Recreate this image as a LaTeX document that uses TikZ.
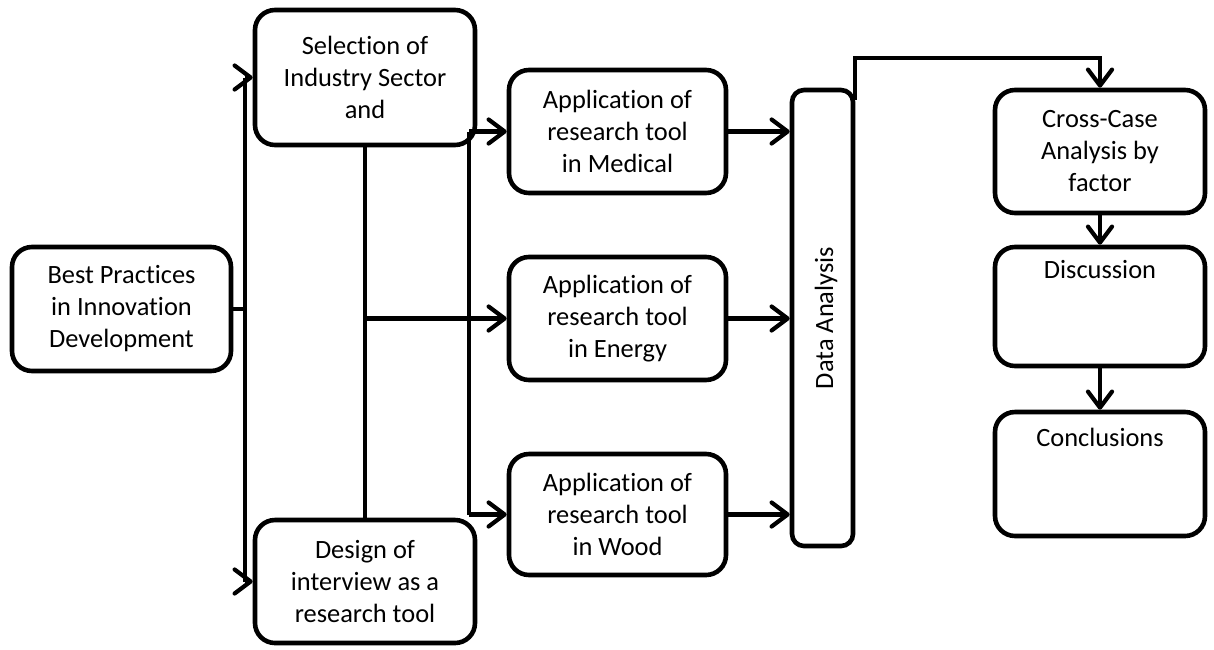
\documentclass[tikz,border=0pt]{standalone}
\usepackage{fontspec}
\setmainfont{Carlito}[Ligatures=NoCommon]
\usetikzlibrary{arrows.meta,positioning,calc}

\begin{document}
\begin{tikzpicture}[x=0.5pt,y=-0.5pt,>={Straight Barb[length=8pt,width=12pt,line cap=round,line join=round]},
	stage/.style={draw, line width=2.3pt, rounded corners=10pt, align=center, inner sep=2pt, font=\fontsize{13.2}{16}\selectfont},
	flow/.style={line width=2.1pt}]
	\useasboundingbox (0,0) rectangle (1214,649);

	% first column
	\node (best) at (121.5,309) [stage, minimum width=109.5pt, minimum height=62pt] {Best Practices\\in Innovation\\Development};
	\node (sel) at (365,77.5) [stage, minimum width=110pt, minimum height=67.5pt] {Selection of\\Industry Sector\\and};
	\node (des) at (365,581.5) [stage, minimum width=110pt, minimum height=61.5pt] {Design of\\interview as a\\research tool};

	% the three cases
	\node (med) at (617.5,131.5) [stage, minimum width=108.5pt, minimum height=61.5pt] {Application of\\research tool\\in Medical};
	\node (ene) at (617.5,318.5) [stage, minimum width=108.5pt, minimum height=61.5pt] {Application of\\research tool\\in Energy};
	\node (wood) at (617.5,514.5) [stage, minimum width=108.5pt, minimum height=60.5pt] {Application of\\research tool\\in Wood};

	\node (da) at (822.5,318) [stage, rounded corners=6pt, minimum width=30.5pt, minimum height=228pt] {};
	\node (datext) at (826,318) [rotate=90, font=\fontsize{13.2}{16}\selectfont] {Data Analysis};

	% last column
	\node (cross) at (1100,151.5) [stage, minimum width=105pt, minimum height=61.5pt] {Cross-Case\\Analysis by\\factor};
	\node (disc) at (1100,306.5) [stage, minimum width=105pt, minimum height=59.5pt] {Discussion\\ \strut\\ \strut};
	\node (concl) at (1100,474) [stage, minimum width=105pt, minimum height=62pt] {Conclusions\\ \strut\\ \strut};

	% connectors
	\draw [flow] (best.east) -- ++(12,0) coordinate (split);
	\draw [flow] (split |- sel.west) -- (split |- des.west);
	\draw [flow, ->] (split |- sel.west) -- (sel.west);
	\draw [flow, ->] (split |- des.west) -- (des.west);

	\draw [flow] (sel.south) -- (des.north);
	\draw [flow, ->] (sel.south |- ene.west) -- (ene.west);

	\coordinate (fork) at (469,132);
	\draw [flow] (fork) -- (fork |- wood.west);
	\draw [flow, ->] (fork |- med.west) -- (med.west);
	\draw [flow, ->] (fork |- wood.west) -- (wood.west);

	\foreach \src in {med,ene,wood}
		\draw [flow, ->] (\src.east) -- (da.west |- \src.east);

	\coordinate (over) at (854,58);
	\draw [flow, ->] ([yshift=-6pt]da.north east) -- (da.north east |- over) -| (cross.north);
	\draw [flow, ->] (cross.south) -- (disc.north);
	\draw [flow, ->] (disc.south) -- (concl.north);
\end{tikzpicture}
\end{document}
